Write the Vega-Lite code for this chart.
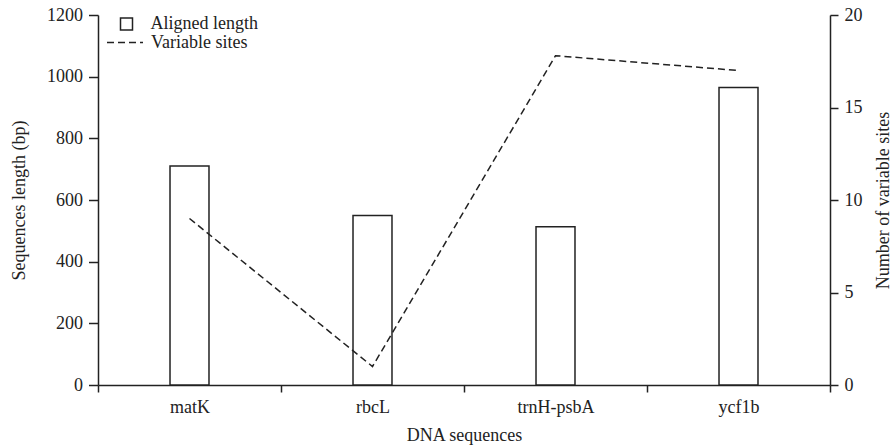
{
  "$schema": "https://vega.github.io/schema/vega-lite/v6.json",
  "width": 732,
  "height": 370,
  "autosize": "none",
  "padding": {"left": 98, "top": 15, "right": 61, "bottom": 63},
  "background": "white",
  "config": {
    "font": "Liberation Serif",
    "view": {"stroke": null},
    "axis": {
      "labelFont": "Liberation Serif",
      "titleFont": "Liberation Serif",
      "labelFontSize": 18,
      "titleFontSize": 18,
      "titleFontWeight": "normal",
      "labelColor": "#222",
      "titleColor": "#222",
      "domainColor": "#222",
      "tickColor": "#222",
      "domainWidth": 1.5,
      "tickWidth": 1.5,
      "grid": false
    },
    "legend": {
      "labelFont": "Liberation Serif",
      "labelFontSize": 18,
      "labelColor": "#222",
      "padding": 0
    }
  },
  "data": {
    "values": [
      {"gene": "matK", "length": 710, "sites": 9},
      {"gene": "rbcL", "length": 550, "sites": 1},
      {"gene": "trnH-psbA", "length": 513, "sites": 17.8},
      {"gene": "ycf1b", "length": 965, "sites": 17}
    ]
  },
  "encoding": {
    "x": {
      "field": "gene",
      "type": "nominal",
      "sort": null,
      "scale": {"paddingInner": 0, "paddingOuter": 0},
      "axis": {
        "title": "DNA sequences",
        "labelAngle": 0,
        "tickBand": "extent",
        "tickSize": 7,
        "labelPadding": 6,
        "titlePadding": 10
      }
    }
  },
  "layer": [
    {
      "mark": {"type": "bar", "width": {"band": 0.213}, "stroke": "#222", "strokeWidth": 1.5},
      "encoding": {
        "y": {
          "field": "length",
          "type": "quantitative",
          "scale": {"domain": [0, 1200], "nice": false},
          "axis": {
            "title": "Sequences length (bp)",
            "orient": "left",
            "format": "d",
            "values": [0, 200, 400, 600, 800, 1000, 1200],
            "tickSize": 9.5,
            "labelPadding": 6,
            "titlePadding": 18
          }
        },
        "fill": {
          "datum": "Aligned length",
          "type": "nominal",
          "scale": {"range": ["#ffffff"]},
          "legend": {
            "title": null,
            "orient": "none",
            "legendX": 19.5,
            "legendY": 0,
            "symbolType": "square",
            "symbolSize": 144,
            "symbolStrokeColor": "#222",
            "symbolStrokeWidth": 1.5,
            "labelOffset": 15
          }
        }
      }
    },
    {
      "mark": {"type": "line", "color": "#222", "strokeWidth": 1.5},
      "encoding": {
        "y": {
          "field": "sites",
          "type": "quantitative",
          "scale": {"domain": [0, 20], "nice": false},
          "axis": {
            "title": "Number of variable sites",
            "orient": "right",
            "format": "d",
            "values": [0, 5, 10, 15, 20],
            "tickSize": 8,
            "labelPadding": 6,
            "titlePadding": 12,
            "titleAngle": 270,
            "titleBaseline": "top"
          }
        },
        "strokeDash": {
          "datum": "Variable sites",
          "type": "nominal",
          "scale": {"range": [[7, 4]]},
          "legend": {
            "title": null,
            "orient": "none",
            "legendX": 8,
            "legendY": 8.5,
            "symbolType": "stroke",
            "symbolSize": 1296,
            "symbolStrokeColor": "#222",
            "symbolStrokeWidth": 1.5,
            "labelOffset": 7
          }
        }
      }
    }
  ],
  "resolve": {"scale": {"y": "independent", "fill": "independent", "strokeDash": "independent"}}
}
